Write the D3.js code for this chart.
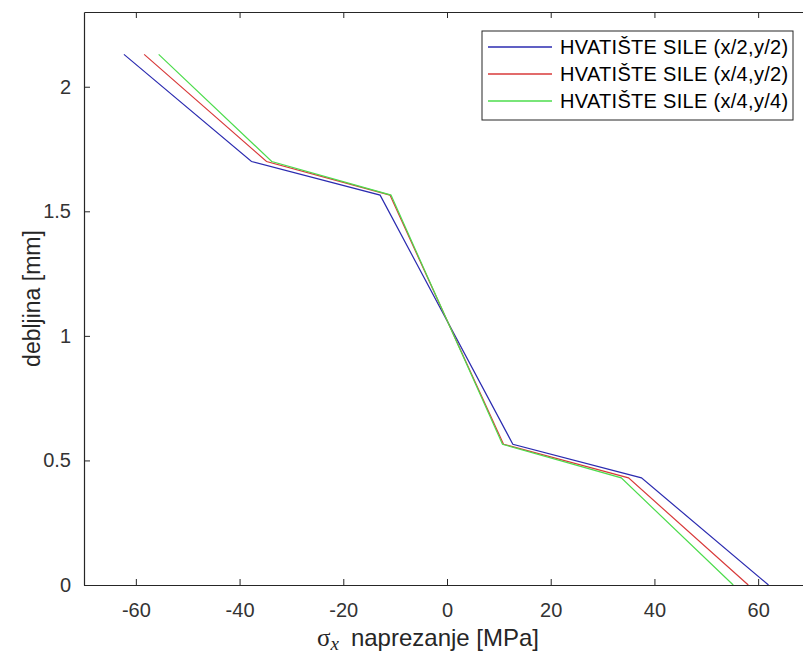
<!DOCTYPE html>
<html>
<head>
<meta charset="utf-8">
<script src="https://cdn.jsdelivr.net/npm/d3@7"></script>
<style>
  body { margin: 0; background: #fff; }
  svg { display: block; }
</style>
</head>
<body>
<svg id="chart" width="803" height="657"></svg>
<script>
// thickness levels (mm) shared by all series
var thickness = [0, 0.43, 0.565, 1.565, 1.70, 2.13];

// stress values (MPa) at each thickness level
var stressA = [62.0, 37.5, 12.7, -12.9, -37.7, -62.3];
var stressB = [58.1, 35.0, 10.9, -11.0, -34.8, -58.4];
var stressC = [55.2, 33.6, 10.7, -10.8, -33.8, -55.6];

var seriesNames = ["HVATIŠTE SILE (x/2,y/2)", "HVATIŠTE SILE (x/4,y/2)", "HVATIŠTE SILE (x/4,y/4)"];
var seriesColors = ["#2b2bb0", "#d83a3a", "#4cdc4c"];

var xTicks = [-60, -40, -20, 0, 20, 40, 60];
var yTicks = [0, 0.5, 1, 1.5, 2];

var svg = d3.select("#chart");
var font = "'Liberation Sans', Arial, sans-serif";
var serif = "'Liberation Serif', 'DejaVu Serif', serif";
var ink = "#262626";

var plotLeft = 84, plotRight = 810, plotTop = 12, plotBottom = 585;

var x = d3.scaleLinear().domain([-70, 70]).range([plotLeft, plotRight]);
var y = d3.scaleLinear().domain([0, 2.3]).range([plotBottom, plotTop]);

// series
var series = [stressA, stressB, stressC].map(function (vals, i) {
    return {
        name: seriesNames[i],
        color: seriesColors[i],
        points: vals.map(function (v, j) { return [v, thickness[j]]; })
    };
});

var line = d3.line()
    .x(function (d) { return x(d[0]); })
    .y(function (d) { return y(d[1]); });

svg.append("g")
    .selectAll("path")
    .data(series)
    .enter().append("path")
    .attr("d", function (d) { return line(d.points); })
    .attr("fill", "none")
    .attr("stroke", function (d) { return d.color; })
    .attr("stroke-width", 1.2);

// axes (ticks pointing inwards like the original)
var plain = function (d) { return String(d); };

var xAxis = svg.append("g")
    .attr("transform", "translate(0," + plotBottom + ")")
    .call(d3.axisBottom(x).tickValues(xTicks).tickSizeInner(-6).tickSizeOuter(0).tickPadding(18).tickFormat(plain));

var xTop = svg.append("g")
    .attr("transform", "translate(0," + plotTop + ")")
    .call(d3.axisTop(x).tickValues(xTicks).tickSizeInner(-6).tickSizeOuter(0).tickFormat(""));

var yAxis = svg.append("g")
    .attr("transform", "translate(" + plotLeft + ",0)")
    .call(d3.axisLeft(y).tickValues(yTicks).tickSizeInner(-6).tickSizeOuter(0).tickPadding(13).tickFormat(plain));

var yRight = svg.append("g")
    .attr("transform", "translate(" + plotRight + ",0)")
    .call(d3.axisRight(y).tickValues(yTicks).tickSizeInner(-6).tickSizeOuter(0).tickFormat(""));

[xAxis, xTop, yAxis, yRight].forEach(function (g) {
    g.selectAll("path").attr("stroke", ink).attr("stroke-width", 1.2);
    g.selectAll("line").attr("stroke", ink);
    g.selectAll("text")
        .attr("fill", "#333")
        .style("font-family", font)
        .style("font-size", "20px");
});

// axis titles
var xLabel = svg.append("text")
    .attr("x", 428)
    .attr("y", 646)
    .attr("text-anchor", "middle")
    .attr("fill", ink)
    .style("font-family", font)
    .style("font-size", "24px");
xLabel.append("tspan")
    .style("font-family", serif)
    .style("font-size", "25px")
    .text("σ");
xLabel.append("tspan")
    .attr("dy", 4)
    .style("font-family", serif)
    .style("font-style", "italic")
    .style("font-size", "19px")
    .text("x");
xLabel.append("tspan")
    .attr("dy", -4)
    .attr("dx", 12)
    .text("naprezanje [MPa]");

svg.append("text")
    .attr("transform", "translate(40," + ((plotTop + plotBottom) / 2) + ") rotate(-90)")
    .attr("text-anchor", "middle")
    .attr("fill", ink)
    .style("font-family", font)
    .style("font-size", "23px")
    .text("debljina [mm]");

// legend
var legend = svg.append("g").attr("transform", "translate(482,31)");

legend.append("rect")
    .attr("width", 311)
    .attr("height", 89)
    .attr("fill", "#fff")
    .attr("stroke", ink)
    .attr("stroke-width", 1);

var item = legend.selectAll(".item")
    .data(series)
    .enter().append("g")
    .attr("transform", function (d, i) { return "translate(0," + (16 + i * 27) + ")"; });

item.append("line")
    .attr("x1", 6)
    .attr("x2", 70)
    .attr("stroke", function (d) { return d.color; })
    .attr("stroke-width", 1.3);

item.append("text")
    .attr("x", 78)
    .attr("dy", "0.35em")
    .attr("fill", "#000")
    .style("font-family", font)
    .style("font-size", "20px")
    .style("letter-spacing", "0.3px")
    .text(function (d) { return d.name; });
</script>
</body>
</html>
